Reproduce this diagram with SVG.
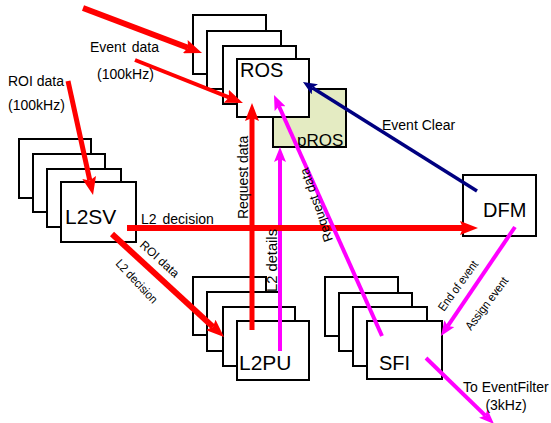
<svg xmlns="http://www.w3.org/2000/svg" width="551" height="423" viewBox="0 0 551 423">
<style>
text{font-family:"Liberation Sans",Arial,Helvetica,sans-serif;fill:#000}
.box{fill:#fff;stroke:#000;stroke-width:2}
.pros{fill:#E4EBC2;stroke:#000;stroke-width:2}
.nl{font-size:20px}
.lbl{font-size:14px}
.sl{font-size:12px}
.red{stroke:#FF0000;fill:none}
.mag{stroke:#FF00FF;fill:none;stroke-width:4}
.navy{stroke:#000080;fill:none;stroke-width:3.5}
</style>
<defs>
<marker id="ahRed" markerUnits="userSpaceOnUse" markerWidth="18" markerHeight="14" refX="3" refY="7" orient="auto">
<path d="M0,0 L18,7 L0,14 L3,7 Z" fill="#FF0000"/>
</marker>
<marker id="ahMag" markerUnits="userSpaceOnUse" markerWidth="15" markerHeight="12" refX="3" refY="6" orient="auto">
<path d="M0,0 L15,6 L0,12 L3,6 Z" fill="#FF00FF"/>
</marker>
<marker id="ahNavy" markerUnits="userSpaceOnUse" markerWidth="14" markerHeight="12" refX="3" refY="6" orient="auto">
<path d="M0,0 L14,6 L0,12 L3,6 Z" fill="#000080"/>
</marker>
</defs>
<rect width="551" height="423" fill="#fff"/>

<g id="ros">
<rect class="box" x="193" y="15" width="73" height="59"/>
<rect class="box" x="207" y="31" width="74" height="58"/>
<rect class="box" x="223" y="46" width="73" height="58"/>
<g id="pros">
<rect class="pros" x="273" y="89" width="73" height="58"/>
<text x="297" y="146" font-size="17">pROS</text>
</g>
<rect class="box" x="237" y="59" width="72" height="58"/>
<text class="nl" x="240" y="77">ROS</text>
</g>

<g id="l2sv">
<rect class="box" x="19" y="139" width="72" height="59"/>
<rect class="box" x="33" y="154" width="72" height="58"/>
<rect class="box" x="47" y="169" width="74" height="58"/>
<rect class="box" x="61" y="182" width="75" height="60"/>
<text x="65" y="224" font-size="21">L2SV</text>
</g>

<g id="dfm">
<rect class="box" x="463" y="175" width="73" height="61"/>
<text class="nl" x="483" y="217">DFM</text>
</g>

<g id="l2pu">
<rect class="box" x="193" y="277" width="73" height="58"/>
<rect class="box" x="207" y="292" width="73" height="59"/>
<rect class="box" x="223" y="307" width="72" height="59"/>
<rect class="box" x="237" y="321" width="72" height="59"/>
<text x="239" y="370" font-size="21">L2PU</text>
</g>

<g id="sfi">
<rect class="box" x="325" y="277" width="73" height="59"/>
<rect class="box" x="339" y="293" width="73" height="58"/>
<rect class="box" x="353" y="307" width="74" height="59"/>
<rect class="box" x="367" y="321" width="75" height="58"/>
<text class="nl" x="379" y="370">SFI</text>
</g>

<g id="connectors">
<line class="red" stroke-width="6" x1="83" y1="8" x2="188" y2="47.7" marker-end="url(#ahRed)"/>
<line class="red" stroke-width="4" x1="135" y1="60" x2="229" y2="97.4" marker-end="url(#ahRed)"/>
<line class="red" stroke-width="5" x1="68" y1="81" x2="89.8" y2="180.4" marker-end="url(#ahRed)"/>
<line class="mag" x1="280" y1="351" x2="280" y2="159" marker-end="url(#ahMag)"/>
<line class="red" stroke-width="6" x1="127" y1="228" x2="463" y2="228" marker-end="url(#ahRed)"/>
<line class="red" stroke-width="5" x1="252" y1="330" x2="252" y2="118" marker-end="url(#ahRed)"/>
<line class="red" stroke-width="6" x1="112" y1="234" x2="213" y2="326.9" marker-end="url(#ahRed)"/>
<line class="mag" x1="382" y1="336" x2="278.9" y2="106" marker-end="url(#ahMag)"/>
<line class="navy" x1="477" y1="191" x2="312.3" y2="87.8" marker-end="url(#ahNavy)"/>
<line class="mag" x1="515" y1="227" x2="447.7" y2="326.1" marker-end="url(#ahMag)"/>
<line class="mag" x1="426" y1="358" x2="485.4" y2="415.6" marker-end="url(#ahMag)"/>
</g>

<g id="labels">
<text class="lbl" x="90" y="52" word-spacing="2">Event data</text>
<text class="lbl" x="97" y="79" font-size="15">(100kHz)</text>
<text class="lbl" x="8" y="86">ROI data</text>
<text class="lbl" x="8" y="110" font-size="15">(100kHz)</text>
<text class="lbl" x="382" y="130">Event Clear</text>
<text class="lbl" x="141" y="223.5" word-spacing="2">L2 decision</text>
<text class="lbl" transform="translate(248,219) rotate(-90)">Request data</text>
<text class="lbl" transform="translate(277,292) rotate(-90)" textLength="63" lengthAdjust="spacingAndGlyphs">L2 details</text>
<text font-size="13" transform="translate(333,240) rotate(-109)">Request data</text>
<text class="sl" transform="translate(139,246) rotate(42)">ROI data</text>
<text class="sl" transform="translate(115,264) rotate(47)" textLength="55" lengthAdjust="spacingAndGlyphs">L2 decision</text>
<text class="sl" transform="translate(444,312) rotate(-54)" textLength="59" lengthAdjust="spacingAndGlyphs">End of event</text>
<text class="sl" transform="translate(471,331) rotate(-53)" textLength="63" lengthAdjust="spacingAndGlyphs">Assign event</text>
<text class="lbl" x="463" y="392">To EventFilter</text>
<text class="lbl" x="506" y="410" text-anchor="middle">(3kHz)</text>
</g>
</svg>
